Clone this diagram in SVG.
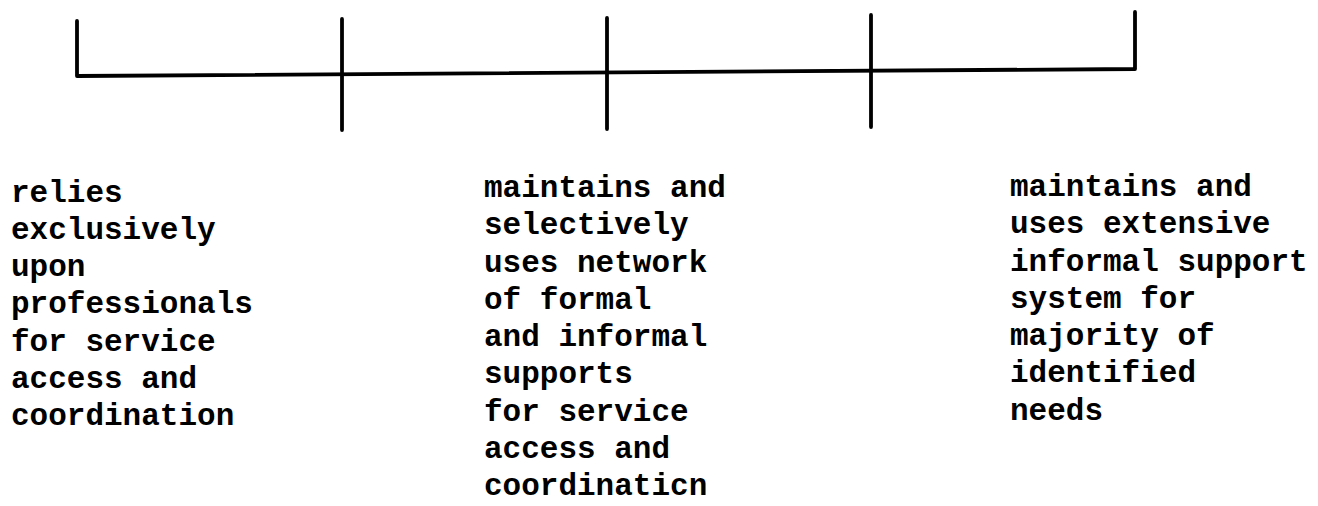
<svg xmlns="http://www.w3.org/2000/svg" width="1318" height="506" viewBox="0 0 1318 506">
<style>
.ln{stroke:#000;stroke-width:3.8;fill:none;stroke-linecap:round;stroke-linejoin:round}
.t{font-family:"Liberation Mono","Courier New",monospace;font-size:31px;font-weight:bold;fill:#000}
</style>
<rect width="1318" height="506" fill="#fff"/>
<g id="connectors">
<path class="ln" d="M77,21 L77,76 L1135,69 L1135,12"/>
<line class="ln" x1="342" y1="19" x2="342" y2="130"/>
<line class="ln" x1="607" y1="18" x2="607" y2="129"/>
<line class="ln" x1="871" y1="15" x2="871" y2="127"/>
</g>
<g id="label-left">
<text class="t" x="11" y="201.5">relies</text>
<text class="t" x="11" y="238.75">exclusively</text>
<text class="t" x="11" y="276">upon</text>
<text class="t" x="11" y="313.25">professionals</text>
<text class="t" x="11" y="350.5">for service</text>
<text class="t" x="11" y="387.75">access and</text>
<text class="t" x="11" y="425">coordination</text>
</g>
<g id="label-middle">
<text class="t" x="484" y="197">maintains and</text>
<text class="t" x="484" y="234.25">selectively</text>
<text class="t" x="484" y="271.5">uses network</text>
<text class="t" x="484" y="308.75">of formal</text>
<text class="t" x="484" y="346">and informal</text>
<text class="t" x="484" y="383.25">supports</text>
<text class="t" x="484" y="420.5">for service</text>
<text class="t" x="484" y="457.75">access and</text>
<text class="t" x="484" y="495">coordinaticn</text>
</g>
<g id="label-right">
<text class="t" x="1010" y="196">maintains and</text>
<text class="t" x="1010" y="233.25">uses extensive</text>
<text class="t" x="1010" y="270.5">informal support</text>
<text class="t" x="1010" y="307.75">system for</text>
<text class="t" x="1010" y="345">majority of</text>
<text class="t" x="1010" y="382.25">identified</text>
<text class="t" x="1010" y="419.5">needs</text>
</g>
</svg>
